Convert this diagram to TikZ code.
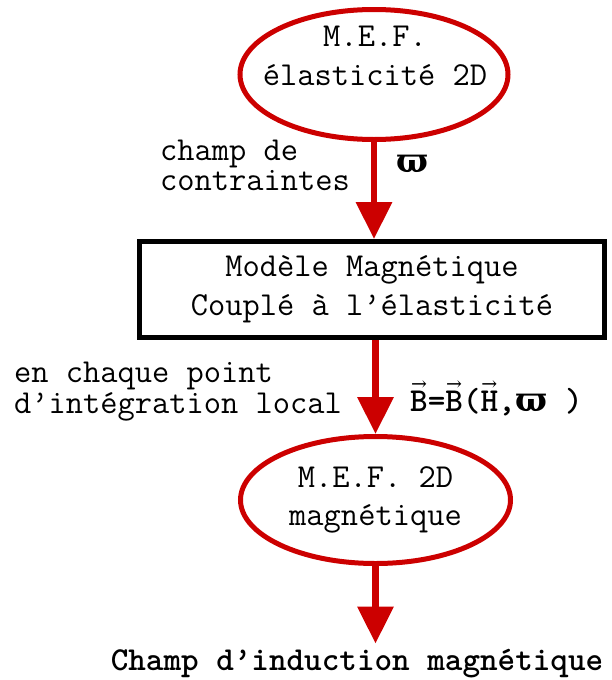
\RequirePackage{fix-cm}
\documentclass[tikz,border=0pt]{standalone}
\usepackage{fontspec}
\newfontfamily\grk{DejaVu Serif}
\usetikzlibrary{shapes.geometric, positioning, arrows.meta}
\definecolor{mefred}{RGB}{204,0,0}
\newcommand{\sigm}{{\grk\bfseries ϖ}}
\newcommand{\vecl}[1]{\leavevmode\hbox{\ooalign{#1\cr\hidewidth
  \raisebox{21pt}{\grk\mdseries\fontsize{19}{19}\selectfont →}\hidewidth\cr}}}

\begin{document}
\begin{tikzpicture}[x=1pt,y=-1pt,
  txt/.style={font=\ttfamily\fontsize{33.5}{38.5}\selectfont, align=center},
  lbl/.style={font=\ttfamily\fontsize{33.5}{30.5}\selectfont, align=left, inner sep=0pt},
  mef/.style={ellipse, draw=mefred, line width=5pt, inner sep=0pt, txt},
  bloc/.style={rectangle, draw=black, line width=5pt, inner sep=0pt, txt},
  flow/.style={draw=mefred, line width=6.5pt, -{Triangle[length=37pt,width=35pt]}}]

\useasboundingbox (0,0) rectangle (611,680);

% blocs du schema
\node[mef, minimum width=268pt, minimum height=130pt] (mefel) at (374,74.5) {};
\node[txt, inner sep=0pt] (mefeltxt) at (375,55.8) {M.E.F.\\élasticité 2D};
\node[bloc, minimum width=465pt, minimum height=96pt] (modele) at (372,289.5)
      {Modèle Magnétique\\Couplé à l’élasticité};
\node[mef, minimum width=270pt, minimum height=127pt] (mefmag) at (375.5,500)
      {M.E.F. 2D\\magnétique};
\node[font=\ttfamily\fontsize{33.5}{34}\selectfont\bfseries, anchor=base, inner sep=5pt] (champ) at (357,670)
      {Champ d’induction magnétique};

% fleches
\draw[flow] (mefel.south) -- (mefel.south |- modele.north);
\draw[flow] (mefmag.north |- modele.south) -- (mefmag.north);
\draw[flow] (mefmag.south) -- (mefmag.south |- champ.north);

% etiquettes
\node[lbl, anchor=west] (contr) at (160,165.3) {champ de\\contraintes};
\node[lbl, anchor=base west] (sig) at (396,172) {\sigm};
\node[lbl, anchor=west] (integ) at (14,391.5) {en chaque point\\d’intégration local};
\node[lbl, anchor=base west, font=\ttfamily\fontsize{33.5}{30.5}\selectfont\bfseries] (loi) at (410,411)
      {\vecl{B}=\vecl{B}(\vecl{H},\sigm\ )};

\end{tikzpicture}
\end{document}
